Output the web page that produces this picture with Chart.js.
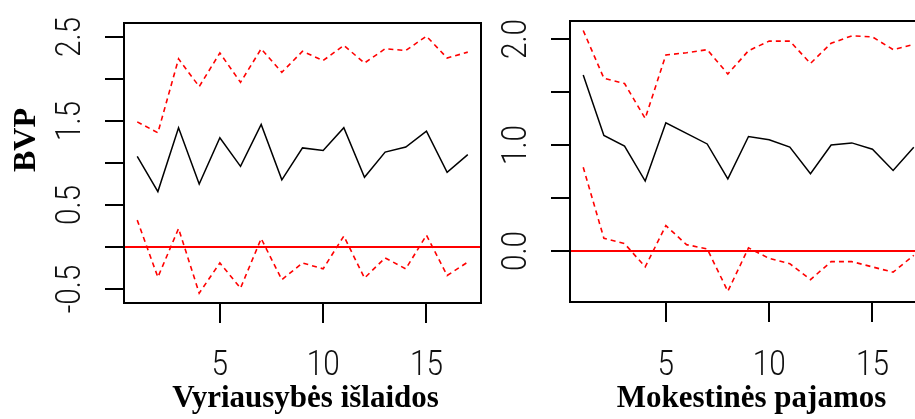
<html lang="lt">
<head>
<meta charset="utf-8" />
<title>BVP impulsų atsakai</title>
<script src="https://cdn.jsdelivr.net/npm/chart.js@4.4.1/dist/chart.umd.min.js"></script>
<style>
  * { margin: 0; padding: 0; box-sizing: border-box; }
  body { width: 915px; height: 419px; overflow: hidden; background: #fff; position: relative; }
  canvas { position: absolute; top: 0; }
  #gov { left: 0; }
  #tax { left: 460px; }
</style>
</head>
<body>
<canvas id="gov" width="500" height="419"></canvas>
<canvas id="tax" width="500" height="419"></canvas>
<script>
// periods (lags) on the x axis
const lags = [1, 2, 3, 4, 5, 6, 7, 8, 9, 10, 11, 12, 13, 14, 15, 16, 17];

// Vyriausybės išlaidos -> BVP
const govEst   = [1.08, 0.66, 1.42, 0.75, 1.30, 0.96, 1.46, 0.80, 1.18, 1.15, 1.42, 0.83, 1.13, 1.19, 1.38, 0.89, 1.10];
const govUpper = [1.49, 1.36, 2.24, 1.91, 2.31, 1.96, 2.36, 2.08, 2.33, 2.22, 2.40, 2.19, 2.36, 2.34, 2.51, 2.25, 2.32];
const govLower = [0.32, -0.36, 0.22, -0.55, -0.19, -0.49, 0.10, -0.39, -0.19, -0.26, 0.13, -0.37, -0.13, -0.26, 0.14, -0.34, -0.18];

// Mokestinės pajamos -> BVP
const taxEst   = [1.66, 1.09, 0.99, 0.66, 1.21, 1.11, 1.01, 0.68, 1.08, 1.05, 0.98, 0.73, 1.00, 1.02, 0.96, 0.76, 0.98];
const taxUpper = [2.08, 1.63, 1.58, 1.25, 1.85, 1.87, 1.90, 1.67, 1.89, 1.98, 1.98, 1.77, 1.96, 2.03, 2.02, 1.90, 1.95];
const taxLower = [0.79, 0.12, 0.07, -0.15, 0.24, 0.06, 0.02, -0.38, 0.03, -0.07, -0.12, -0.27, -0.10, -0.10, -0.15, -0.20, -0.04];

// axis ticks
const xTicks = [5, 10, 15];
const govYTicks = [-0.5, 0, 0.5, 1, 1.5, 2, 2.5];
const govYLabels = ["-0.5", "", "0.5", "", "1.5", "", "2.5"];
const taxYTicks = [0, 0.5, 1, 1.5, 2];
const taxYLabels = ["0.0", "", "1.0", "", "2.0"];

const toPoints = (vals) => lags.map((x, i) => ({ x: x, y: vals[i] }));

const tickFont = '300 35px Roboto, "Liberation Sans", sans-serif';
const squeeze = 0.85; // R labels come out narrow

// box, zero line and R-style text
const rAxes = {
  id: "rAxes",
  beforeDatasetsDraw(chart, args, opts) {
    const { ctx, chartArea: a, scales } = chart;
    const y0 = Math.round(scales.y.getPixelForValue(0));
    ctx.save();
    ctx.strokeStyle = "#ff0000";
    ctx.lineWidth = 2;
    ctx.beginPath();
    ctx.moveTo(a.left, y0);
    ctx.lineTo(a.right, y0);
    ctx.stroke();
    ctx.restore();
  },
  afterDraw(chart, args, opts) {
    const { ctx, chartArea: a, scales } = chart;
    ctx.save();
    ctx.strokeStyle = "#000";
    ctx.lineWidth = 2;
    ctx.strokeRect(a.left, a.top, a.right - a.left, a.bottom - a.top);

    ctx.fillStyle = "#111";
    ctx.font = tickFont;
    ctx.textAlign = "center";
    ctx.textBaseline = "alphabetic";
    xTicks.forEach((v) => {
      ctx.save();
      ctx.translate(scales.x.getPixelForValue(v), 375);
      ctx.scale(squeeze, 1);
      ctx.fillText(String(v), 0, 0);
      ctx.restore();
    });
    opts.yTicks.forEach((v, i) => {
      if (!opts.yLabels[i]) return;
      ctx.save();
      ctx.translate(a.left - 44, scales.y.getPixelForValue(v));
      ctx.rotate(-Math.PI / 2);
      ctx.scale(squeeze, 1);
      ctx.fillText(opts.yLabels[i], 0, 0);
      ctx.restore();
    });

    ctx.fillStyle = "#000";
    ctx.font = 'bold 31px "Liberation Serif", "Times New Roman", serif';
    ctx.fillText(opts.xTitle, (a.left + a.right) / 2 + 3, 407);
    if (opts.yTitle) {
      ctx.save();
      ctx.translate(35, 140);
      ctx.rotate(-Math.PI / 2);
      ctx.font = 'bold 32px "Liberation Serif", "Times New Roman", serif';
      ctx.fillText(opts.yTitle, 0, 0);
      ctx.restore();
    }
    ctx.restore();
  },
};

function makeChart(id, est, upper, lower, yMin, yMax, yTicks, yLabels, xTitle, yTitle, axisWidth, top, axisHeight, padRight) {
  const dashed = { borderColor: "#ff0000", borderWidth: 1.6, borderDash: [5, 4] };
  return new Chart(document.getElementById(id), {
    type: "line",
    plugins: [rAxes],
    data: {
      datasets: [
        Object.assign({ data: toPoints(upper) }, dashed),
        { data: toPoints(est), borderColor: "#000", borderWidth: 1.5 },
        Object.assign({ data: toPoints(lower) }, dashed),
      ],
    },
    options: {
      responsive: false,
      animation: false,
      devicePixelRatio: 1,
      layout: { padding: { top: top, right: padRight, left: 0, bottom: 0 } },
      elements: { point: { radius: 0 }, line: { tension: 0 } },
      plugins: {
        legend: { display: false },
        tooltip: { enabled: false },
        rAxes: { yTicks: yTicks, yLabels: yLabels, xTitle: xTitle, yTitle: yTitle },
      },
      scales: {
        x: {
          type: "linear",
          min: 0.36,
          max: 17.64,
          afterBuildTicks: (s) => { s.ticks = xTicks.map((v) => ({ value: v })); },
          afterFit: (s) => { s.height = axisHeight; },
          ticks: { display: false },
          grid: { drawOnChartArea: false, tickLength: 20, color: "#000", lineWidth: 2 },
          border: { display: false },
        },
        y: {
          min: yMin,
          max: yMax,
          afterBuildTicks: (s) => { s.ticks = yTicks.map((v) => ({ value: v })); },
          afterFit: (s) => { s.width = axisWidth; },
          ticks: { display: false },
          grid: { drawOnChartArea: false, tickLength: 19, color: "#000", lineWidth: 2 },
          border: { display: false },
        },
      },
    },
  });
}

makeChart("gov", govEst, govUpper, govLower, -0.667, 2.667, govYTicks, govYLabels,
  "Vyriausybės išlaidos", "BVP", 124, 23, 116, 19);
makeChart("tax", taxEst, taxUpper, taxLower, -0.481, 2.170, taxYTicks, taxYLabels,
  "Mokestinės pajamos", "", 110, 21, 117, 33);
</script>
</body>
</html>
